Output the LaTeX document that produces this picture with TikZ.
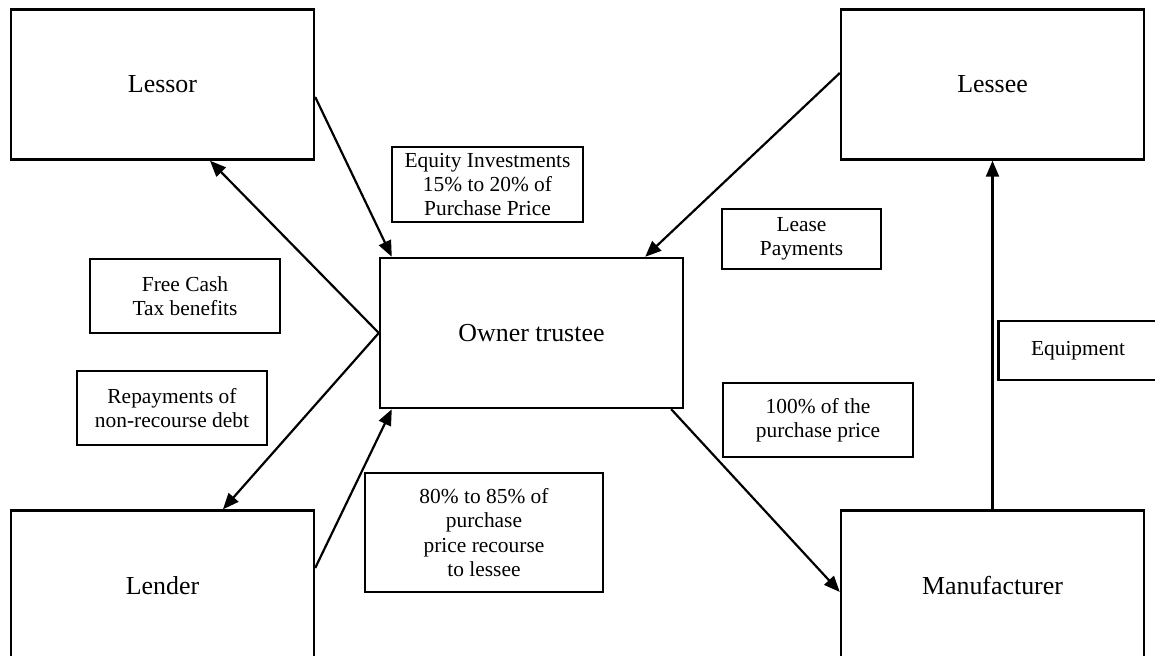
\documentclass[tikz,border=0pt]{standalone}
\usepackage{fontspec}
\setmainfont{Liberation Serif}
\usetikzlibrary{arrows.meta}

\tikzset{
  party/.style={draw, line width=2.4bp, rectangle, inner sep=0pt,
    minimum width=303bp, minimum height=150bp, align=center,
    font=\fontsize{26}{30}\selectfont},
  flowbox/.style={draw, line width=2.2bp, rectangle, inner sep=0pt,
    align=center, font=\fontsize{21.5}{24.5}\selectfont},
  flow/.style={line width=2.2bp, -{Triangle[length=16bp,width=13bp]}}
}

\begin{document}
\begin{tikzpicture}[x=1bp, y=-1bp]
  \clip (0,0) rectangle (1155,656);
  \fill[white] (0,0) rectangle (1155,656);

  % the five parties
  \node[party] (lessor) at (162.5,84.5) {Lessor};
  \node[party] (lessee) at (992.5,84.5) {Lessee};
  \node[party] (owner)  at (531.5,333)  {Owner trustee};
  \node[party] (lender) at (162.5,585.5) {Lender};
  \node[party] (manuf)  at (992.5,585.5) {Manufacturer};

  % labels of the money and equipment flows
  \node[flowbox, minimum width=191bp, minimum height=75bp] (equity) at (487.5,184.5)
    {Equity Investments\\15\% to 20\% of\\Purchase Price};
  \node[flowbox, minimum width=159bp, minimum height=60bp] (lease) at (801.5,239)
    {Lease\\Payments};
  \node[flowbox, minimum width=190bp, minimum height=74bp] (cash) at (185,296)
    {Free Cash\\Tax benefits};
  \node[flowbox, minimum width=190bp, minimum height=74bp] (repay) at (172,408)
    {Repayments of\\non-recourse debt};
  \node[flowbox, minimum width=238bp, minimum height=119bp] (loan) at (484,532.5)
    {80\% to 85\% of\\purchase\\price recourse\\to lessee};
  \node[flowbox, minimum width=190bp, minimum height=74bp] (price) at (818,420)
    {100\% of the\\purchase price};
  \node[flowbox, minimum width=159bp, minimum height=59bp] (equip) at (1078,350.5)
    {Equipment};

  % connectors
  \draw[flow] ([yshift=-12.5bp]lessor.east) -- ([xshift=13bp]owner.north west);
  \draw[flow] ([yshift=11.5bp]lessee.west) -- ([xshift=-39bp]owner.north east);
  \draw[flow] (owner.west) -- ([xshift=47.5bp]lessor.south);
  \draw[flow] (owner.west) -- ([xshift=60.5bp]lender.north);
  \draw[flow] ([yshift=17.5bp]lender.east) -- ([xshift=13bp]owner.south west);
  \draw[flow] ([xshift=-13bp]owner.south east) -- ([yshift=-6.5bp]manuf.west);
  \draw[flow] (manuf.north) -- (lessee.south);
\end{tikzpicture}
\end{document}
